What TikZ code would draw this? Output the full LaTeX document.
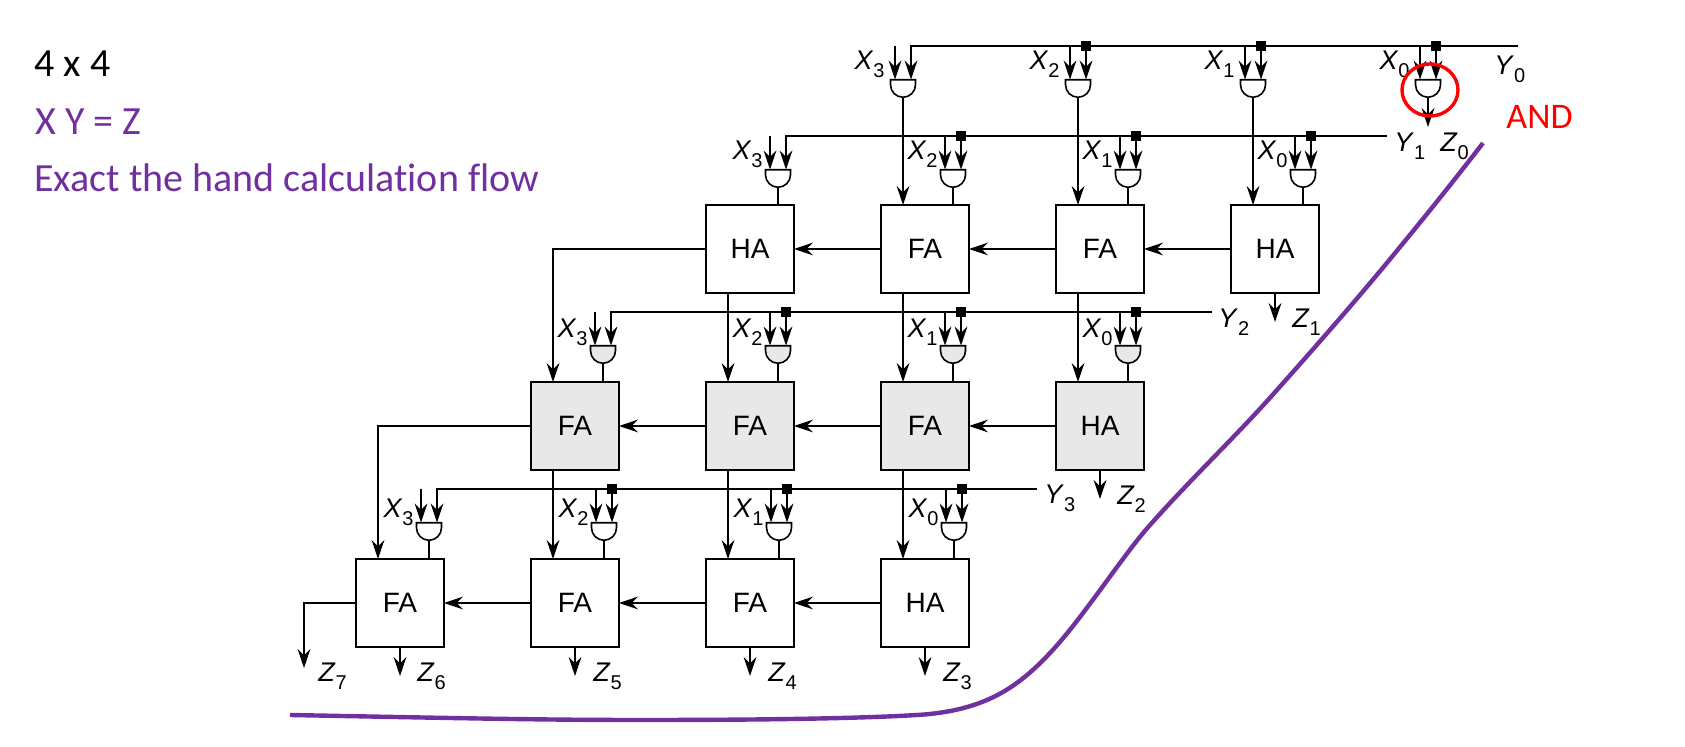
\documentclass[tikz,border=0pt]{standalone}
\usepackage{fontspec}
\setmainfont{Liberation Sans}
\newfontfamily\notefont[Ligatures=NoCommon]{Carlito}
\usetikzlibrary{arrows.meta,shapes.geometric}
\definecolor{notepurple}{HTML}{7030A0}
\definecolor{addgray}{HTML}{E8E8E8}
\newcommand{\vn}[2]{\textit{#1}\raisebox{-4pt}{\fontsize{10}{11}\selectfont #2}}
\tikzset{
% Wires, adder cells and gates
wire/.style={line width=0.8pt,draw=black},
arw/.style={wire,-{Stealth[length=9.5pt,width=6.4pt,inset=3.2pt]}},
add node/.style={rectangle,draw,line width=0.9pt,inner sep=0,outer sep=0,minimum size=44pt,font=\fontsize{14}{16}\selectfont,fill=#1},
add node/.default=white,
and node/.style={inner sep=0,outer sep=0,minimum width=12.5pt,minimum height=8.75pt,
  append after command={\pgfextra{\draw[wire,fill=#1] (\tikzlastnode.north west) -- (\tikzlastnode.north east) -- ++(0,5) arc[start angle=0,end angle=-180,radius=6.25pt] -- cycle;}}},
and node/.default=white,
pin node/.style={rectangle,fill=black,inner sep=0,minimum size=5pt},
var node/.style={inner sep=0,font=\fontsize{13.5}{16}\selectfont},
note node/.style={inner sep=0,anchor=base west,font=\notefont\fontsize{20}{24}\selectfont},
}

\begin{document}
\begin{tikzpicture}[x=0.5pt,y=-0.5pt]
\useasboundingbox (0,0) rectangle (1685,747);

% notes
\node[note node] (size) at (34,77) {4 x 4};
\node[note node,text=notepurple] (eqn) at (35,135) {X Y = Z};
\node[note node,text=notepurple] (flow) at (34,192) {Exact the hand calculation flow};

% adder cells
\node[add node] (b10) at (1275,249) {HA};
\node[add node] (b11) at (1100,249) {FA};
\node[add node] (b12) at (925,249) {FA};
\node[add node] (b13) at (750,249) {HA};
\node[add node=addgray] (b20) at (1100,426) {HA};
\node[add node=addgray] (b21) at (925,426) {FA};
\node[add node=addgray] (b22) at (750,426) {FA};
\node[add node=addgray] (b23) at (575,426) {FA};
\node[add node] (b30) at (925,603) {HA};
\node[add node] (b31) at (750,603) {FA};
\node[add node] (b32) at (575,603) {FA};
\node[add node] (b33) at (400,603) {FA};

% one row of gates per bit of Y
\foreach \r/\gx/\ry/\off/\lb/\gf in {0/1428/46/10/24/white,1/1303/136/7/24/white,2/1128/312/7/26/addgray,3/954/489/7/28.5/white} {
  \foreach \k in {0,...,3} {
    \node[and node=\gf] (g\r\k) at (\gx-175*\k,\ry+42.5) {};
    \coordinate (ga\r\k) at (\gx-175*\k-8,\ry+33.5);
    \coordinate (gb\r\k) at (\gx-175*\k+8,\ry+33.5);
    \coordinate (ta\r\k) at (\gx-175*\k-8,\ry);
    \coordinate (tb\r\k) at (\gx-175*\k+8,\ry);
    \draw[arw] (ta\r\k) -- (ga\r\k);
    \node[var node,anchor=base east] (x\r\k) at (\gx-175*\k-8-\off,\ry+\lb) {\vn{X}{\k}};
  }
  \foreach \k in {0,1,2} {
    \node[pin node] (p\r\k) at (tb\r\k) {};
    \draw[arw] (p\r\k) -- (gb\r\k);
  }
}

% Y rails
\coordinate (rail0) at (1518,46);
\coordinate (rail1) at (1387,136);
\coordinate (rail2) at (1212,312);
\coordinate (rail3) at (1037,489);
\foreach \r/\yx/\yy in {0/1494/75,1/1394/152,2/1218/328,3/1044/504} {
  \draw[arw,line join=miter] (rail\r) -- (tb\r3) -- (gb\r3);
  \node[var node,anchor=base west] (y\r) at (\yx,\yy) {\vn{Y}{\r}};
}

% gates into cells
\foreach \g/\b in {g01/b10,g02/b11,g03/b12} \draw[arw] (\g.south) -- (\g.south |- \b.north);
\foreach \r in {1,2,3} {
  \foreach \k in {0,...,3} \draw[wire] (g\r\k.south) -- (g\r\k.south |- b\r\k.north);
}

% carries
\foreach \r in {1,2,3} {
  \foreach \a/\b in {0/1,1/2,2/3} \draw[arw] (b\r\a.west) -- (b\r\b.east);
}
\draw[arw] (b13.west) -| ([xshift=-11pt]b23.north);
\draw[arw] (b23.west) -| ([xshift=-11pt]b33.north);

% sums
\foreach \a/\b in {b11/b20,b12/b21,b13/b22,b21/b30,b22/b31,b23/b32}
  \draw[arw] ([xshift=-11pt]\a.south) -- ([xshift=-11pt]\b.north);

% outputs
\coordinate (zend0) at (1428,127);
\coordinate (zend7) at (304,668);
\draw[arw] (g00.south) -- (zend0);
\draw[arw] (b33.west) -| (zend7);
\node[var node,anchor=base west] (z0) at (1440,152) {\vn{Z}{0}};
\node[var node,anchor=base west] (z7) at (318,682) {\vn{Z}{7}};
\foreach \n/\bn/\zx/\zy in {1/b10/1292/328,2/b20/1117/505,3/b30/943/682,4/b31/768/682,5/b32/593/682,6/b33/417/682} {
  \draw[arw] (\bn.south) -- ++(0,29) coordinate (zend\n);
  \node[var node,anchor=base west] (z\n) at (\zx,\zy) {\vn{Z}{\n}};
}

% red mark and purple outline
\node[ellipse,draw=red,line width=1.7pt,inner sep=0,minimum width=28pt,minimum height=26pt] (mark) at (1430,90) {};
\node[note node,text=red,font=\notefont\fontsize{18}{22}\selectfont] (andlabel) at (1506,129) {AND};
\draw[notepurple,line width=2.2pt] (290,715) .. controls (450,718) and (540,720) .. (640,720)
  .. controls (740,720) and (850,719) .. (917,715)
  .. controls (985,711) and (1018,687) .. (1050,653)
  .. controls (1083,618) and (1123,555) .. (1150,525)
  .. controls (1190,480) and (1230,442) .. (1268,400)
  .. controls (1310,353) and (1355,302) .. (1400,247)
  .. controls (1428,213) and (1456,178) .. (1483,143);
\end{tikzpicture}
\end{document}
